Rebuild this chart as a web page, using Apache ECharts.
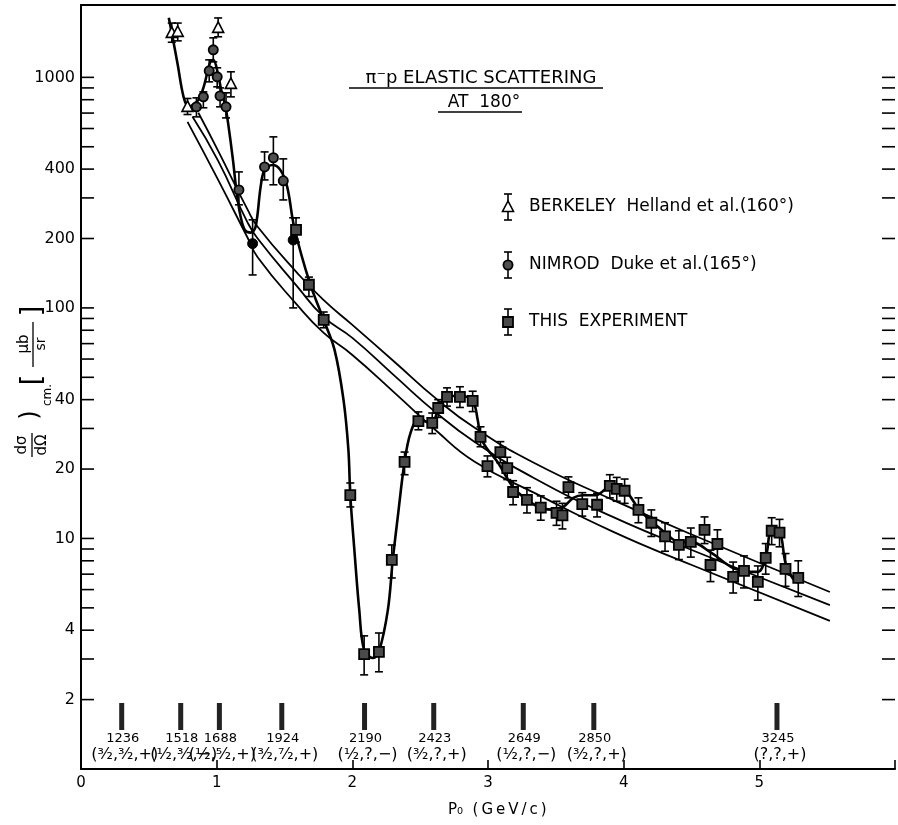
<!DOCTYPE html>
<html><head><meta charset="utf-8">
<script src="https://cdn.jsdelivr.net/npm/echarts@6/dist/echarts.min.js"></script>
<style>html,body{margin:0;padding:0;background:#fff}#c{width:898px;height:825px}</style>
</head><body><div id="c"></div>
<script>
// ---- data (x = P0 GeV/c, y = dσ/dΩ μb/sr, lo, hi) ----
const berkeley = [[0.669,1560,1420,1720],[0.713,1575,1440,1720],[0.785,745,690,810],[1.011,1640,1500,1810],[1.105,937,823,1057]];
const nimrodHatched = [[0.851,745,674,815],[0.902,823,738,865],[0.945,1067,956,1191],[0.975,1316,1167,1484],[1.004,1005,910,1100],[1.025,831,745,900],[1.069,745,667,857],[1.164,325,280,389],[1.353,409,359,475],[1.418,448,342,552],[1.491,356,294,443]];
const nimrodSolid = [[1.265,190,139,241],[1.564,197,100,246]];
const thisExp = [[1.585,218,193,246],[1.68,126,112,136],[1.789,88.7,82,96],[1.985,15.4,13.7,17.4],[2.087,3.15,2.56,3.78],[2.196,3.22,2.64,3.89],[2.291,8.07,6.74,9.37],[2.385,21.5,18.9,23.7],[2.487,32.3,29.6,35.4],[2.589,31.7,28.5,35.0],[2.633,36.8,33.5,40.0],[2.698,41.1,37.5,45.0],[2.793,41.1,37.0,45.5],[2.887,39.5,35.5,43.5],[2.945,27.6,25.0,30.5],[2.996,20.6,18.5,22.8],[3.091,23.7,21.3,26.3],[3.142,20.2,18.0,22.5],[3.185,15.9,14.0,17.8],[3.287,14.7,12.9,16.6],[3.389,13.6,12.0,15.3],[3.505,12.9,11.4,14.5],[3.549,12.6,11.0,14.2],[3.593,16.7,15.0,18.5],[3.695,14.1,12.5,15.8],[3.804,14.0,12.4,15.7],[3.898,16.9,15.0,18.9],[3.949,16.4,14.5,18.4],[4.007,16.1,14.2,18.1],[4.109,13.3,11.7,15.0],[4.204,11.7,10.2,13.3],[4.305,10.2,8.8,11.7],[4.407,9.37,8.1,10.8],[4.495,9.66,8.3,11.1],[4.596,10.9,9.5,12.4],[4.64,7.67,6.5,8.9],[4.691,9.46,8.1,10.9],[4.807,6.81,5.8,7.9],[4.887,7.23,6.1,8.4],[4.989,6.48,5.4,7.6],[5.047,8.23,7.0,9.5],[5.091,10.8,9.4,12.3],[5.149,10.6,9.2,12.1],[5.193,7.38,6.2,8.6],[5.287,6.74,5.6,8.0]];
const resonanceCurve = [[0.647,1812],[0.669,1560],[0.713,1133],[0.756,823],[0.793,745],[0.865,798],[0.902,900],[0.953,1167],[0.975,1191],[1.011,1026],[1.033,883],[1.062,760],[1.084,635],[1.12,439],[1.142,335],[1.156,294],[1.171,258],[1.207,218],[1.251,212],[1.287,225],[1.324,335],[1.353,397],[1.411,417],[1.469,397],[1.52,335],[1.571,225],[1.687,128],[1.789,88.7],[1.869,65.8],[1.935,39.9],[1.971,24.2],[1.985,15.4],[2.015,8.91],[2.051,4.90],[2.087,3.28],[2.153,3.03],[2.196,3.22],[2.262,4.90],[2.298,8.07],[2.335,12.4],[2.385,21.5],[2.429,28.7],[2.487,32.7],[2.589,31.7],[2.633,36.8],[2.698,41.5],[2.793,41.5],[2.887,39.5],[2.924,32.7],[2.945,27.6],[2.989,24.7],[3.069,21.5],[3.185,16.7],[3.287,14.7],[3.389,13.6],[3.498,13.3],[3.556,13.7],[3.629,15.0],[3.702,15.4],[3.796,15.4],[3.898,16.7],[4.007,16.2],[4.116,13.3],[4.211,11.8],[4.305,10.6],[4.407,9.66],[4.495,9.66],[4.647,8.65],[4.793,7.52],[4.887,7.23],[4.989,7.16],[5.047,8.23],[5.091,10.9],[5.149,10.7],[5.193,7.83],[5.244,6.74],[5.287,6.41]];
const bgUpper = [[0.865,702],[1.011,480],[1.229,266],[1.302,225],[1.593,142],[1.789,108],[2.0,84.4],[2.320,57.7],[2.611,40.7],[2.902,30.2],[3.338,21.3],[3.920,14.7],[4.502,10.4],[5.520,5.86]];
const bgMiddle = [[0.822,674],[1.011,434],[1.229,234],[1.302,200],[1.593,124],[1.789,91.4],[2.0,74.1],[2.320,50.2],[2.611,35.4],[2.902,26.2],[3.338,18.3],[3.920,12.4],[4.502,8.91],[5.520,5.14]];
const bgLower = [[0.785,641],[1.011,359],[1.229,201],[1.302,166],[1.593,103],[1.789,77.9],[2.0,62.5],[2.320,42.4],[2.611,29.6],[2.902,21.5],[3.338,15.8],[3.920,10.7],[4.502,7.67],[5.520,4.39]];
const resX = [0.30,0.735,1.02,1.48,2.09,2.60,3.26,3.78,5.13];
const resMass = ['1236','1518','1688','1924','2190','2423','2649','2850','3245'];
const resQN = ['(³⁄₂,³⁄₂,+)','(¹⁄₂,³⁄₂,−)','(¹⁄₂,⁵⁄₂,+)','(³⁄₂,⁷⁄₂,+)','(¹⁄₂,?,−)','(³⁄₂,?,+)','(¹⁄₂,?,−)','(³⁄₂,?,+)','(?,?,+)'];
const yTickValues = [2,3,4,5,6,7,8,9,10,20,30,40,50,60,70,80,90,100,200,300,400,500,600,700,800,900,1000];
const yTickLabels = [2,4,10,20,40,100,200,400,1000];
const xMax = 6;

const FONT = 'DejaVu Sans';
const chart = echarts.init(document.getElementById('c'), null, {renderer:'canvas'});

function marker(kind, x, y){
  if (kind === 'tri') return {type:'polygon', shape:{points:[[x,y-6],[x-5.5,y+4.5],[x+5.5,y+4.5]]}, style:{fill:'#fff',stroke:'#000',lineWidth:1.6}};
  if (kind === 'circ') return {type:'circle', shape:{cx:x,cy:y,r:4.6}, style:{fill:'#505050',stroke:'#000',lineWidth:1.8}};
  if (kind === 'dot') return {type:'circle', shape:{cx:x,cy:y,r:5}, style:{fill:'#000',stroke:'#000',lineWidth:1}};
  return {type:'rect', shape:{x:x-5,y:y-5,width:10,height:10}, style:{fill:'#4a4a4a',stroke:'#000',lineWidth:1.8}};
}
function errSeries(data, kind){
  return {
    type:'custom', data:data, dimensions:['x','y','lo','hi'], encode:{x:'x',y:'y'}, z:5,
    renderItem:function(params, api){
      const p = api.coord([api.value(0), api.value(1)]);
      const lo = api.coord([api.value(0), api.value(2)])[1];
      const hi = api.coord([api.value(0), api.value(3)])[1];
      const s = {stroke:'#000', lineWidth:1.6};
      return {type:'group', children:[
        {type:'line', shape:{x1:p[0],y1:lo,x2:p[0],y2:hi}, style:s},
        {type:'line', shape:{x1:p[0]-4,y1:lo,x2:p[0]+4,y2:lo}, style:s},
        {type:'line', shape:{x1:p[0]-4,y1:hi,x2:p[0]+4,y2:hi}, style:s},
        marker(kind, p[0], p[1])
      ]};
    }
  };
}
function curve(data, w, sm){
  return {type:'line', data:data, smooth:sm, showSymbol:false, symbol:'none', z:3,
    lineStyle:{color:'#000', width:w}};
}

function legendItem(kind, y, text){
  const x = 508;
  return [
    {type:'line', shape:{x1:x,y1:y-13,x2:x,y2:y+13}, style:{stroke:'#000',lineWidth:1.6}},
    {type:'line', shape:{x1:x-4,y1:y-13,x2:x+4,y2:y-13}, style:{stroke:'#000',lineWidth:1.6}},
    {type:'line', shape:{x1:x-4,y1:y+13,x2:x+4,y2:y+13}, style:{stroke:'#000',lineWidth:1.6}},
    Object.assign(marker(kind, x, y), {z:10}),
    {type:'text', x:529, y:y, style:{text:text, fill:'#000', font:'17px "'+FONT+'"', verticalAlign:'middle'}}
  ];
}

const option = {
  animation:false,
  backgroundColor:'#fff',
  grid:{left:81, top:5, width:825, bottom:56},
  xAxis:[
    {type:'value', min:0, max:xMax, interval:1,
     axisLine:{lineStyle:{color:'#000',width:2}},
     axisTick:{inside:true, length:9, lineStyle:{color:'#000',width:1.6}},
     axisLabel:{color:'#000', fontSize:15, fontFamily:FONT, margin:7, formatter:function(v){return v>5.5?'':String(v);}},
     splitLine:{show:false}},
    {type:'value', min:0, max:xMax, position:'top',
     axisLine:{show:true, lineStyle:{color:'#000',width:2}},
     axisTick:{show:false}, axisLabel:{show:false}, splitLine:{show:false}}
  ],
  yAxis:{type:'log', logBase:10, min:1, max:2060,
    axisLine:{show:true, lineStyle:{color:'#000',width:2}},
    axisTick:{show:false}, axisLabel:{show:false}, splitLine:{show:false}},
  series:[
    curve(bgUpper, 1.8, 0.5), curve(bgMiddle, 1.8, 0.5), curve(bgLower, 1.8, 0.5),
    curve(resonanceCurve, 2.6, 0.35),
    errSeries(berkeley, 'tri'),
    errSeries(nimrodHatched, 'circ'),
    errSeries(nimrodSolid, 'dot'),
    errSeries(thisExp, 'sq'),
    {type:'custom', data:yTickValues.map(function(v){return [0,v];}), z:4,
     renderItem:function(params, api){
       const v = api.value(1);
       const l = api.coord([0, v]), r = api.coord([xMax, v]);
       const s = {stroke:'#000', lineWidth:1.6};
       return {type:'group', children:[
         {type:'line', shape:{x1:l[0],y1:l[1],x2:l[0]+13,y2:l[1]}, style:s},
         {type:'line', shape:{x1:r[0]-13,y1:r[1],x2:r[0],y2:r[1]}, style:s}
       ]};
     }},
    {type:'custom', data:yTickLabels.map(function(v){return [0,v];}), z:4,
     renderItem:function(params, api){
       const v = api.value(1);
       const l = api.coord([0, v]);
       return {type:'text', x:l[0]-6, y:l[1], style:{text:String(v), fill:'#000', font:'16px "'+FONT+'"', align:'right', verticalAlign:'middle'}};
     }},
    {type:'custom', data:resX.map(function(x,i){return [x,1,i];}), dimensions:['x','y','i'], encode:{x:'x',y:'y'}, z:4,
     renderItem:function(params, api){
       const i = api.value(2);
       const p = api.coord([api.value(0), 1]);
       return {type:'group', children:[
         {type:'rect', shape:{x:p[0]-2.5,y:p[1]-66,width:5,height:27}, style:{fill:'#222'}},
         {type:'text', x:p[0]+1, y:p[1]-30, style:{text:resMass[i], fill:'#000', font:'13px "'+FONT+'"', align:'center', verticalAlign:'middle'}},
         {type:'text', x:p[0]+3, y:p[1]-14, style:{text:resQN[i], fill:'#000', font:'16px "'+FONT+'"', align:'center', verticalAlign:'middle'}}
       ]};
     }}
  ],
  graphic:[].concat(
    [
      {type:'text', x:481, y:78, style:{text:'π⁻p ELASTIC SCATTERING', fill:'#000', font:'18px "'+FONT+'"', align:'center', verticalAlign:'middle'}},
      {type:'line', shape:{x1:349,y1:88,x2:603,y2:88}, style:{stroke:'#000',lineWidth:1.4}},
      {type:'text', x:484, y:103, style:{text:'AT  180°', fill:'#000', font:'17px "'+FONT+'"', align:'center', verticalAlign:'middle'}},
      {type:'line', shape:{x1:438,y1:112,x2:522,y2:112}, style:{stroke:'#000',lineWidth:1.4}},
      {type:'text', x:448, y:810, style:{text:'P₀  (\u2009G\u2009e\u2009V\u2009/\u2009c\u2009)', fill:'#000', font:'15px "'+FONT+'"', verticalAlign:'middle'}},
      {type:'group', x:33, y:385, rotation:Math.PI/2, children:[
        {type:'text', x:-60, y:-11, style:{text:'dσ', fill:'#000', font:'15px "'+FONT+'"', align:'center', verticalAlign:'middle'}},
        {type:'text', x:-60, y:9, style:{text:'dΩ', fill:'#000', font:'15px "'+FONT+'"', align:'center', verticalAlign:'middle'}},
        {type:'line', shape:{x1:-72,y1:-1,x2:-48,y2:-1}, style:{stroke:'#000',lineWidth:1.3}},
        {type:'text', x:-30, y:-2, style:{text:')', fill:'#000', font:'24px "'+FONT+'"', align:'center', verticalAlign:'middle'}},
        {type:'text', x:-10, y:15, style:{text:'cm.', fill:'#000', font:'12px "'+FONT+'"', align:'center', verticalAlign:'middle'}},
        {type:'text', x:5, y:1, style:{text:'[', fill:'#000', font:'28px "'+FONT+'"', align:'center', verticalAlign:'middle'}},
        {type:'text', x:41, y:-9, style:{text:'μb', fill:'#000', font:'15px "'+FONT+'"', align:'center', verticalAlign:'middle'}},
        {type:'text', x:41, y:8, style:{text:'sr', fill:'#000', font:'14px "'+FONT+'"', align:'center', verticalAlign:'middle'}},
        {type:'line', shape:{x1:18,y1:0,x2:63,y2:0}, style:{stroke:'#000',lineWidth:1.3}},
        {type:'text', x:74, y:1, style:{text:']', fill:'#000', font:'28px "'+FONT+'"', align:'center', verticalAlign:'middle'}}
      ]}
    ],
    legendItem('tri', 207, 'BERKELEY  Helland et al.(160°)'),
    legendItem('circ', 265, 'NIMROD  Duke et al.(165°)'),
    legendItem('sq', 322, 'THIS  EXPERIMENT')
  )
};
chart.setOption(option);
</script></body></html>
